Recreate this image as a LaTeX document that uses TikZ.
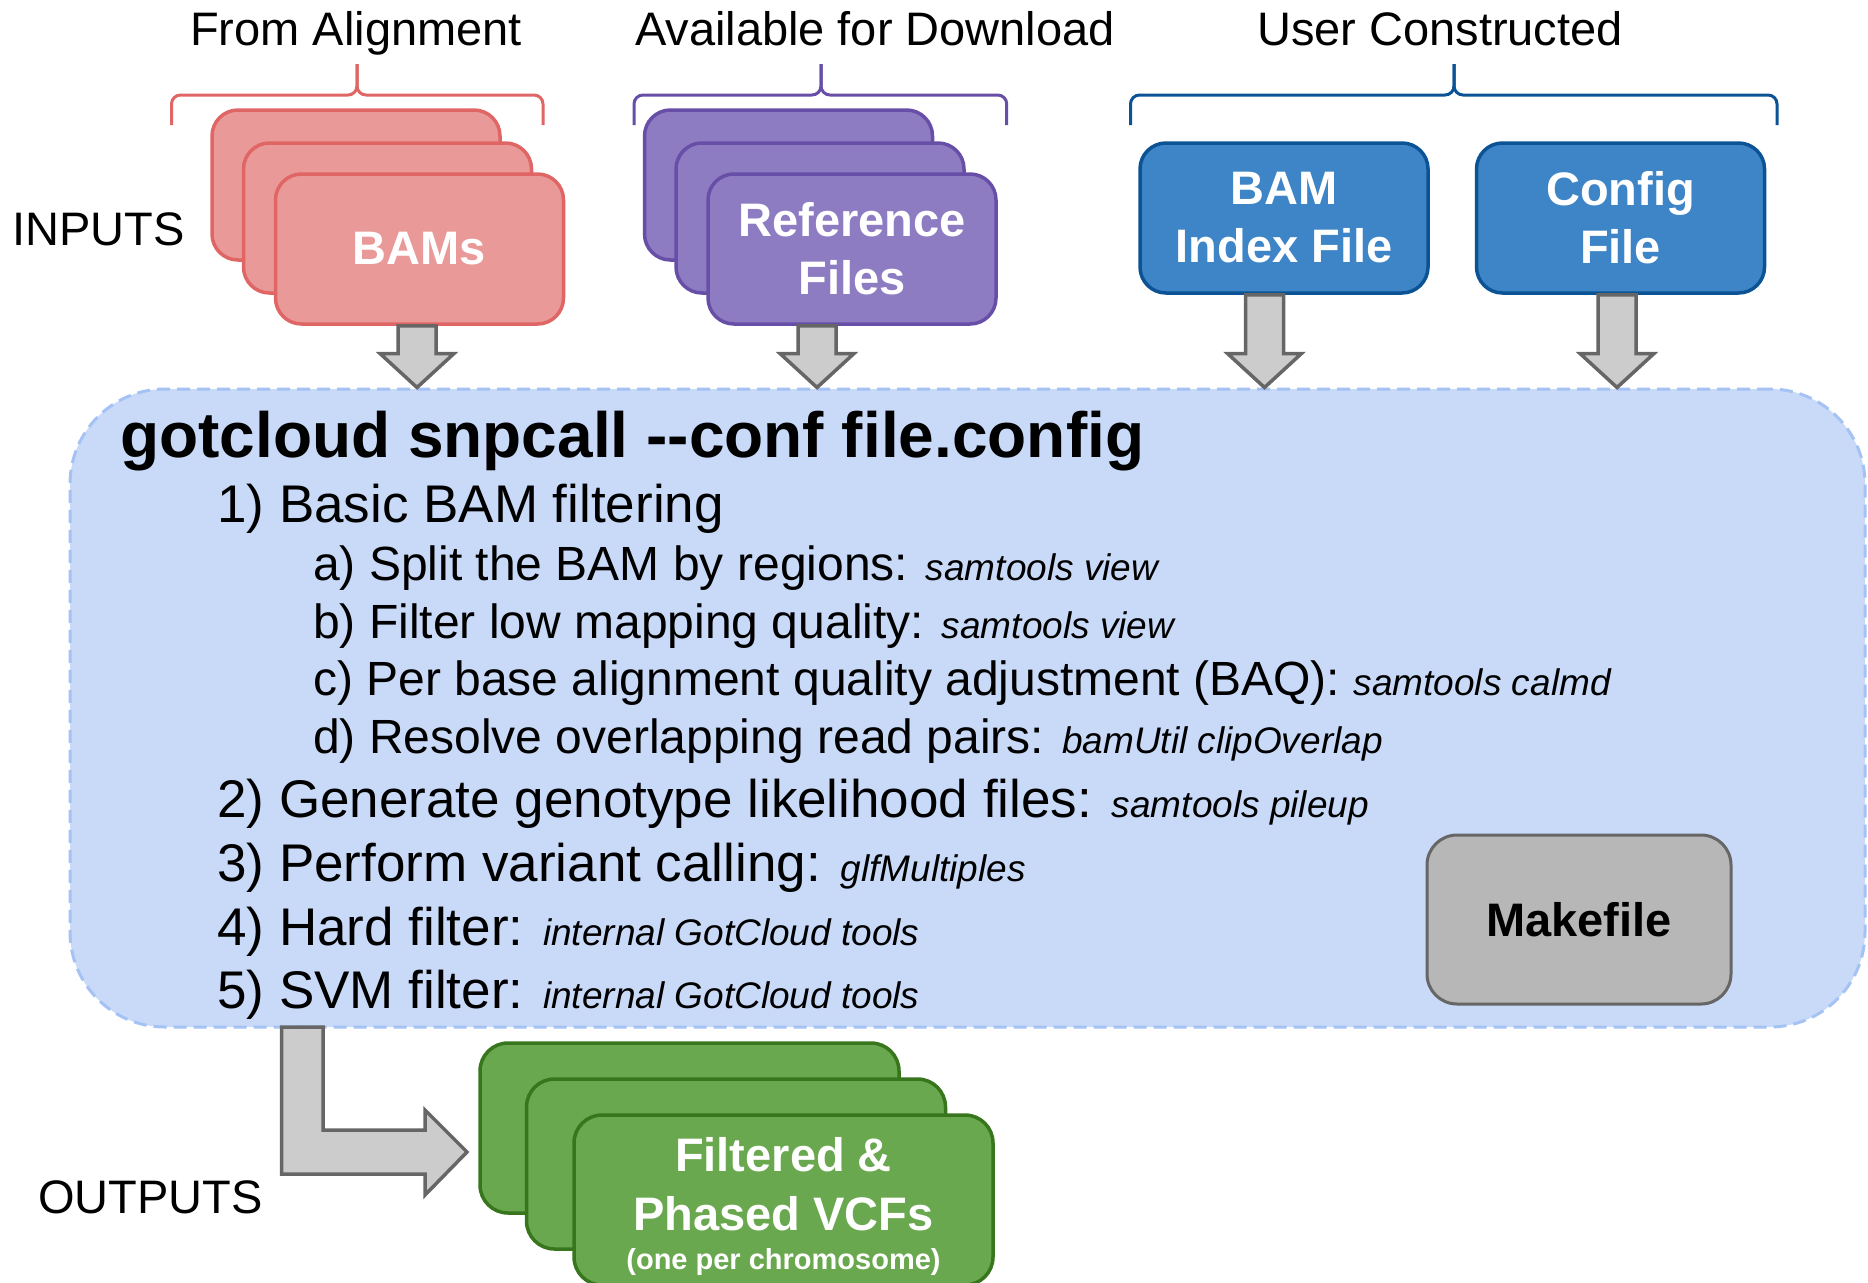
\documentclass[tikz,border=0pt]{standalone}
\usepackage{fontspec}
\setmainfont{Liberation Sans}
\usetikzlibrary{calc}
\definecolor{redfill}{HTML}{EA9999}
\definecolor{redline}{HTML}{E06666}
\definecolor{purfill}{HTML}{8E7CC3}
\definecolor{purline}{HTML}{674EA7}
\definecolor{bluefill}{HTML}{3D85C6}
\definecolor{blueline}{HTML}{0B5394}
\definecolor{procfill}{HTML}{C9DAF8}
\definecolor{procline}{HTML}{A4C2F4}
\definecolor{makefill}{HTML}{B7B7B7}
\definecolor{greyline}{HTML}{666666}
\definecolor{arrowfill}{HTML}{CCCCCC}
\definecolor{greenfill}{HTML}{6AA84F}
\definecolor{greenline}{HTML}{38761D}
\newcommand{\tool}[1]{{\fontsize{37}{44}\selectfont\itshape #1}}
\newcommand{\dnarrow}[2]{%
  \draw[blockarrow] let \p1=(#1), \p2=(#2) in
    (\x1-19pt,\y1) -- (\x1+19pt,\y1) -- (\x1+19pt,\y2+34pt) -- (\x1+37pt,\y2+34pt)
    -- (\x1,\y2) -- (\x1-37pt,\y2+34pt) -- (\x1-19pt,\y2+34pt) -- cycle;}
\newcommand{\mybrace}[4]{%
  \draw[#4, line width=3pt, rounded corners=9pt] (#1,125) -- (#1,95) -- (#2,95) -- (#2,64);
  \draw[#4, line width=3pt, rounded corners=9pt] (#2,64) -- (#2,95) -- (#3,95) -- (#3,125);}
\begin{document}
\begin{tikzpicture}[x=1pt,y=-1pt,
  filebox/.style={rounded corners=26pt, minimum width=288pt, minimum height=150pt,
    line width=3.5pt, inner sep=0pt, align=center, text=white,
    font=\fontsize{47}{58}\selectfont\bfseries},
  redbox/.style={filebox, fill=redfill, draw=redline},
  purbox/.style={filebox, fill=purfill, draw=purline},
  bluebox/.style={filebox, fill=bluefill, draw=blueline},
  greenbox/.style={filebox, fill=greenfill, draw=greenline, minimum width=419pt,
    minimum height=170pt, rounded corners=28pt, font=\fontsize{47}{59}\selectfont\bfseries},
  header/.style={anchor=base, inner sep=0pt, font=\fontsize{47}{56}\selectfont},
  sidelabel/.style={anchor=base west, inner sep=0pt, font=\fontsize{47}{56}\selectfont},
  titletext/.style={anchor=base west, inner sep=0pt, font=\fontsize{64}{76}\selectfont\bfseries},
  stepmain/.style={anchor=base west, inner sep=0pt, font=\fontsize{53}{63}\selectfont},
  stepsub/.style={anchor=base west, inner sep=0pt, font=\fontsize{48}{58}\selectfont},
  blockarrow/.style={fill=arrowfill, draw=greyline, line width=3.5pt, line join=miter},
]
\useasboundingbox (0,0) rectangle (1868,1282);

% headers
\node[header] (hfrom) at (356,45) {From Alignment};
\node[header] (havail) at (875,45) {Available for Download};
\node[header] (huser) at (1440,45) {User Constructed};
\mybrace{171.5}{357}{543}{redline}
\mybrace{634}{821}{1006.7}{purline}
\mybrace{1130.5}{1454}{1777}{blueline}

\node[sidelabel] (inputs) at (12,245) {INPUTS};
\node[sidelabel] (outputs) at (38,1213) {OUTPUTS};

% input stacks
\node[redbox] (bam1) at (356,185) {};
\node[redbox] (bam2) at (387.5,218) {};
\node[redbox] (bam3) at (419.5,249) {BAMs};
\node[purbox] (ref1) at (788.5,185) {};
\node[purbox] (ref2) at (820,218) {};
\node[purbox] (ref3) at (852,249) {Reference\\Files};
\node[bluebox] (bai) at (1284,218) {BAM\\Index File};
\node[bluebox] (cfg) at (1620.5,218) {Config\\File};

% process box
\node[draw=procline, fill=procfill, line width=3pt, dash pattern=on 13pt off 7pt,
  rounded corners=95pt, minimum width=1795pt, minimum height=638pt, inner sep=0pt]
  (proc) at (967.5,708) {};

\dnarrow{$(bam3.south)+(-2.5,0)$}{proc.north}
\dnarrow{$(ref3.south)+(-35,0)$}{proc.north}
\dnarrow{$(bai.south)+(-19.5,0)$}{proc.north}
\dnarrow{$(cfg.south)+(-3.5,0)$}{proc.north}

\node[titletext] (title) at (120,457) {gotcloud snpcall -\kern0pt-conf file.config};
\node[stepmain] (s1) at (217,522) {1) Basic BAM filtering};
\node[stepsub] (sa) at (313,580) {a) Split the BAM by regions: \tool{samtools view}};
\node[stepsub] (sb) at (313,638) {b) Filter low mapping quality: \tool{samtools view}};
\node[stepsub] (sc) at (313,695) {c) Per base alignment quality adjustment (BAQ): \tool{samtools calmd}};
\node[stepsub] (sd) at (313,753) {d) Resolve overlapping read pairs: \tool{bamUtil clipOverlap}};
\node[stepmain] (s2) at (217,817) {2) Generate genotype likelihood files: \tool{samtools pileup}};
\node[stepmain] (s3) at (217,881) {3) Perform variant calling: \tool{glfMultiples}};
\node[stepmain] (s4) at (217,945) {4) Hard filter: \tool{internal GotCloud tools}};
\node[stepmain] (s5) at (217,1008) {5) SVM filter: \tool{internal GotCloud tools}};

\node[draw=greyline, fill=makefill, line width=3pt, rounded corners=30pt,
  minimum width=304pt, minimum height=169pt, inner sep=0pt,
  font=\fontsize{47}{56}\selectfont\bfseries] (make) at (1579,919.5) {Makefile};

% outputs
\node[greenbox] (vcf1) at (689.5,1128) {};
\node[greenbox] (vcf2) at (736,1164) {};
\node[greenbox] (vcf3) at (783.5,1200) {\rule{0pt}{46pt}Filtered \&\\Phased VCFs\\[-20pt]{\fontsize{29}{35}\selectfont (one per chromosome)}};

\coordinate (lstart) at (302.3,1027);
\coordinate (ltip) at (467,1152);
\draw[blockarrow] let \p1=(lstart), \p2=(ltip) in
  (\x1-20.7pt,\y1) -- (\x1+20.7pt,\y1) -- (\x1+20.7pt,\y2+22pt) -- (\x2-42pt,\y2+22pt)
  -- (\x2-42pt,\y2+42pt) -- (\x2,\y2) -- (\x2-42pt,\y2-43pt) -- (\x2-42pt,\y2-22pt)
  -- (\x1-20.7pt,\y2-22pt) -- cycle;
\end{tikzpicture}
\end{document}
